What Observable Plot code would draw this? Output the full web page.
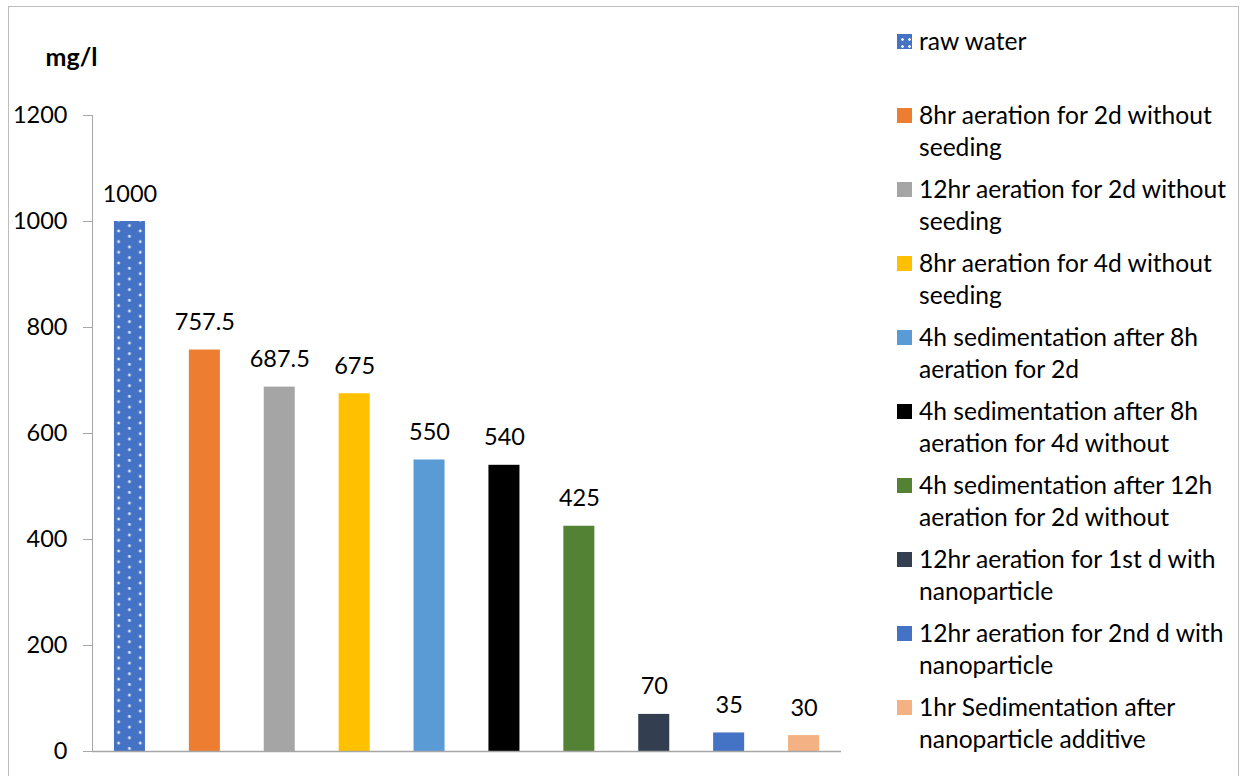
<!DOCTYPE html>
<html>
<head>
<meta charset="utf-8">
<script src="https://cdn.jsdelivr.net/npm/d3@7"></script>
<script src="https://cdn.jsdelivr.net/npm/@observablehq/plot@0.6"></script>
<style>
  html, body { margin: 0; padding: 0; background: #fff; }
  #chart { position: relative; width: 1243px; height: 776px; overflow: hidden; font-family: Lato, "Open Sans", sans-serif; color: #000; }
  #border { position: absolute; left: 8px; top: 6px; width: 1231px; height: 800px; border: 1.5px solid #BDBDBD; box-sizing: border-box; }
  #plot { position: absolute; left: 0; top: 0; }
  #legend { position: absolute; left: 897px; top: 25px; }
  .item { position: absolute; left: 0; display: flex; align-items: flex-start; white-space: pre; font-size: 24.6px; line-height: 32px; }
  .sw { width: 15px; height: 15px; margin-top: 9px; margin-right: 7px; flex: none; }
</style>
</head>
<body>
<div id="chart">
  <div id="border"></div>
  <div id="plot"></div>
  <div id="legend"></div>
</div>
<script>
// Treatment stages (line breaks follow the legend wrapping)
const categories = [
  "raw water",
  "8hr aeration for 2d without\nseeding",
  "12hr aeration for 2d without\nseeding",
  "8hr aeration for 4d without\nseeding",
  "4h sedimentation after 8h\naeration for 2d",
  "4h sedimentation after 8h\naeration for 4d without",
  "4h sedimentation after 12h\naeration for 2d without",
  "12hr aeration for 1st d with\nnanoparticle",
  "12hr aeration for 2nd d with\nnanoparticle",
  "1hr Sedimentation after\nnanoparticle additive"
];
// Concentration, mg/l
const values = [1000, 757.5, 687.5, 675, 550, 540, 425, 70, 35, 30];
const colors = ["url(#rawDots)", "#ED7D31", "#A5A5A5", "#FFC000", "#5B9BD5", "#000000", "#548235", "#333F50", "#4472C4", "#F4B183"];
const yTicks = [0, 200, 400, 600, 800, 1000, 1200];
const yUnit = "mg/l";

const data = categories.map((c, i) => ({cat: c, value: values[i], fill: colors[i]}));

const plot = Plot.plot({
  width: 860,
  height: 776,
  marginLeft: 92,
  marginTop: 115,
  marginBottom: 25,
  marginRight: 19,
  style: {fontFamily: "Lato, 'Open Sans', sans-serif", fontSize: "23.5px", color: "#000", background: "transparent", overflow: "visible"},
  x: {domain: categories, paddingInner: 0.586, paddingOuter: 0.293, round: false, axis: null},
  y: {domain: [0, 1200], axis: null},
  color: {type: "identity"},
  marks: [
    Plot.axisY({ticks: yTicks, tickSize: 9, tickPadding: 16, stroke: "#A6A6A6", fill: "#000", label: null, tickFormat: d => String(d)}),
    Plot.frame({anchor: "left", stroke: "#A6A6A6"}),
    Plot.barY(data, {x: "cat", y: "value", fill: "fill"}),
    Plot.ruleY([0], {stroke: "#A6A6A6", strokeWidth: 1.5}),
    Plot.text(data, {x: "cat", y: "value", text: d => String(d.value), lineAnchor: "bottom", dy: -20, fill: "#000"}),
    Plot.text([yUnit], {frameAnchor: "top-left", text: d => d, dx: -47, dy: -50, fontWeight: "bold", fontSize: 25, lineAnchor: "bottom", fill: "#000"})
  ]
});

// Dotted fill used by the raw water bar
const xs = plot.scale("x");
const ys = plot.scale("y");
const ns = "http://www.w3.org/2000/svg";
const defs = document.createElementNS(ns, "defs");
const pat = document.createElementNS(ns, "pattern");
pat.setAttribute("id", "rawDots");
pat.setAttribute("patternUnits", "userSpaceOnUse");
pat.setAttribute("width", 21.6);
pat.setAttribute("height", 10.67);
pat.setAttribute("x", xs.apply(categories[0]) + 4.7);
pat.setAttribute("y", ys.apply(values[0]) + 10);
const bg = document.createElementNS(ns, "rect");
bg.setAttribute("width", 21.6);
bg.setAttribute("height", 10.67);
bg.setAttribute("fill", "#4472C4");
pat.appendChild(bg);
for (const [cx, cy] of [[0, 0], [21.6, 0], [0, 10.67], [21.6, 10.67], [10.8, 5.33]]) {
  const c = document.createElementNS(ns, "circle");
  c.setAttribute("cx", cx);
  c.setAttribute("cy", cy);
  c.setAttribute("r", 1.4);
  c.setAttribute("fill", "#fff");
  c.setAttribute("fill-opacity", 0.85);
  pat.appendChild(c);
}
defs.appendChild(pat);
plot.insertBefore(defs, plot.firstChild);
document.getElementById("plot").appendChild(plot);

// Legend
const legend = document.getElementById("legend");
categories.forEach((c, i) => {
  const item = document.createElement("div");
  item.className = "item";
  item.style.top = (i * 74) + "px";
  const sw = document.createElement("div");
  sw.className = "sw";
  if (i === 0) {
    sw.style.background = "radial-gradient(circle, rgba(255,255,255,0.9) 1px, transparent 1.6px) 2px 2px / 7px 7px, #4472C4";
  } else {
    sw.style.background = colors[i];
  }
  const label = document.createElement("span");
  label.textContent = c;
  item.appendChild(sw);
  item.appendChild(label);
  legend.appendChild(item);
});
</script>
</body>
</html>
